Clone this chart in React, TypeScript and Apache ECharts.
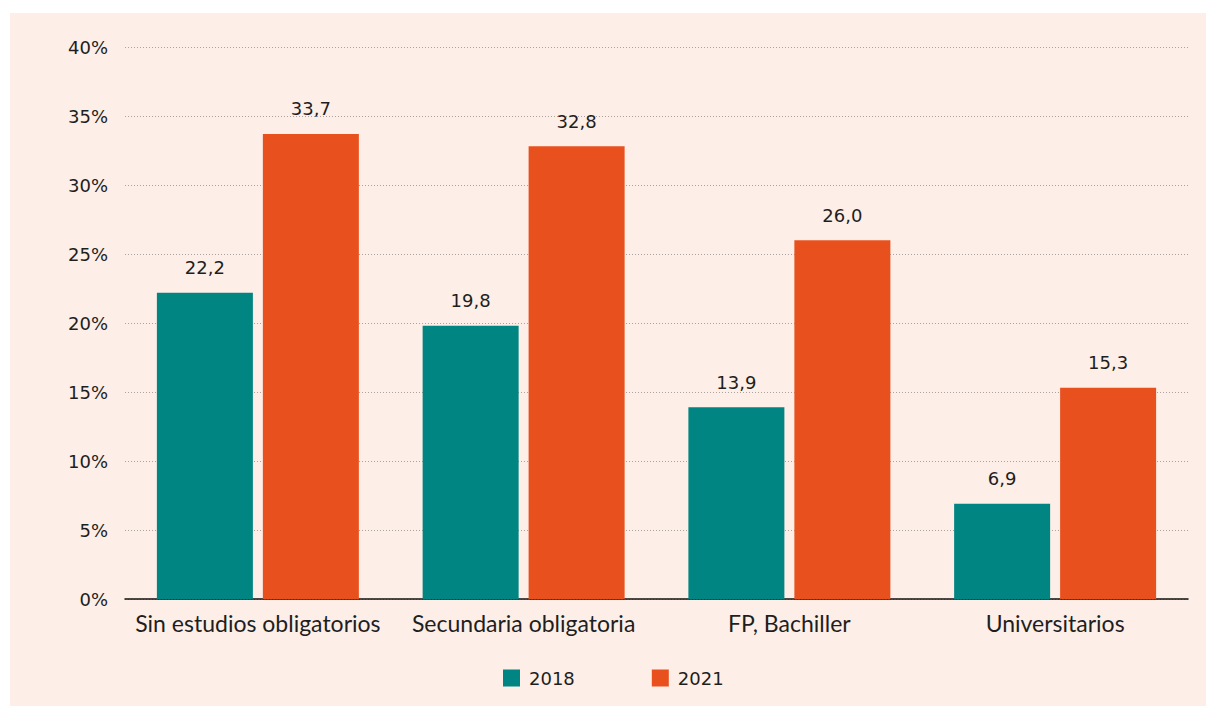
import React, { useEffect, useRef } from "react";
import * as echarts from "echarts";

const categories = ["Sin estudios obligatorios", "Secundaria obligatoria", "FP, Bachiller", "Universitarios"];
const values2018 = [22.2, 19.8, 13.9, 6.9];
const values2021 = [33.7, 32.8, 26.0, 15.3];
const seriesNames = ["2018", "2021"];

const NUM_FONT = "'DejaVu Sans', sans-serif";
const TXT_FONT = "Lato, 'Noto Sans', sans-serif";

export default function App() {
  const ref = useRef<HTMLDivElement>(null);
  useEffect(() => {
    if (!ref.current) return;
    const chart = echarts.init(ref.current, null, { renderer: "svg" });
    const label = {
      show: true,
      position: "top",
      distance: 16,
      fontSize: 18,
      fontFamily: NUM_FONT,
      color: "#1e1e1e",
      formatter: (p: any) => p.value.toFixed(1).replace(".", ","),
    };
    chart.setOption({
      animation: false,
      backgroundColor: "#fdeee7",
      textStyle: { fontFamily: NUM_FONT },
      grid: { left: 115, right: 18, top: 34, bottom: 107, containLabel: false },
      legend: {
        data: seriesNames,
        left: 488,
        top: 651,
        itemWidth: 17,
        itemHeight: 17,
        itemGap: 77,
        icon: "rect",
        textStyle: { fontSize: 18, color: "#1e1e1e", fontFamily: NUM_FONT, padding: [0, 0, 0, 4] },
      },
      xAxis: {
        type: "category",
        data: categories,
        axisLine: { lineStyle: { color: "#111", width: 1.5 } },
        axisTick: { show: false },
        axisLabel: { fontSize: 23, color: "#1e1e1e", margin: 12, fontFamily: TXT_FONT, interval: 0 },
      },
      yAxis: {
        type: "value",
        min: 0,
        max: 40,
        interval: 5,
        axisLine: { show: false },
        axisTick: { show: false },
        axisLabel: { fontSize: 18, color: "#1e1e1e", margin: 17, formatter: "{value}%", fontFamily: NUM_FONT },
        splitLine: { lineStyle: { color: "#a9a29e", type: [1, 2], width: 1 } },
      },
      series: [
        {
          name: seriesNames[0],
          type: "bar",
          data: values2018,
          barWidth: 96,
          barGap: "10.4%",
          itemStyle: { color: "#008583" },
          label,
        },
        {
          name: seriesNames[1],
          type: "bar",
          data: values2021,
          barWidth: 96,
          barGap: "10.4%",
          itemStyle: { color: "#e8511e" },
          label,
        },
      ],
    });
    return () => chart.dispose();
  }, []);
  return (
    <div
      ref={ref}
      style={{ position: "fixed", left: 10, top: 13, width: 1196, height: 693 }}
    />
  );
}
